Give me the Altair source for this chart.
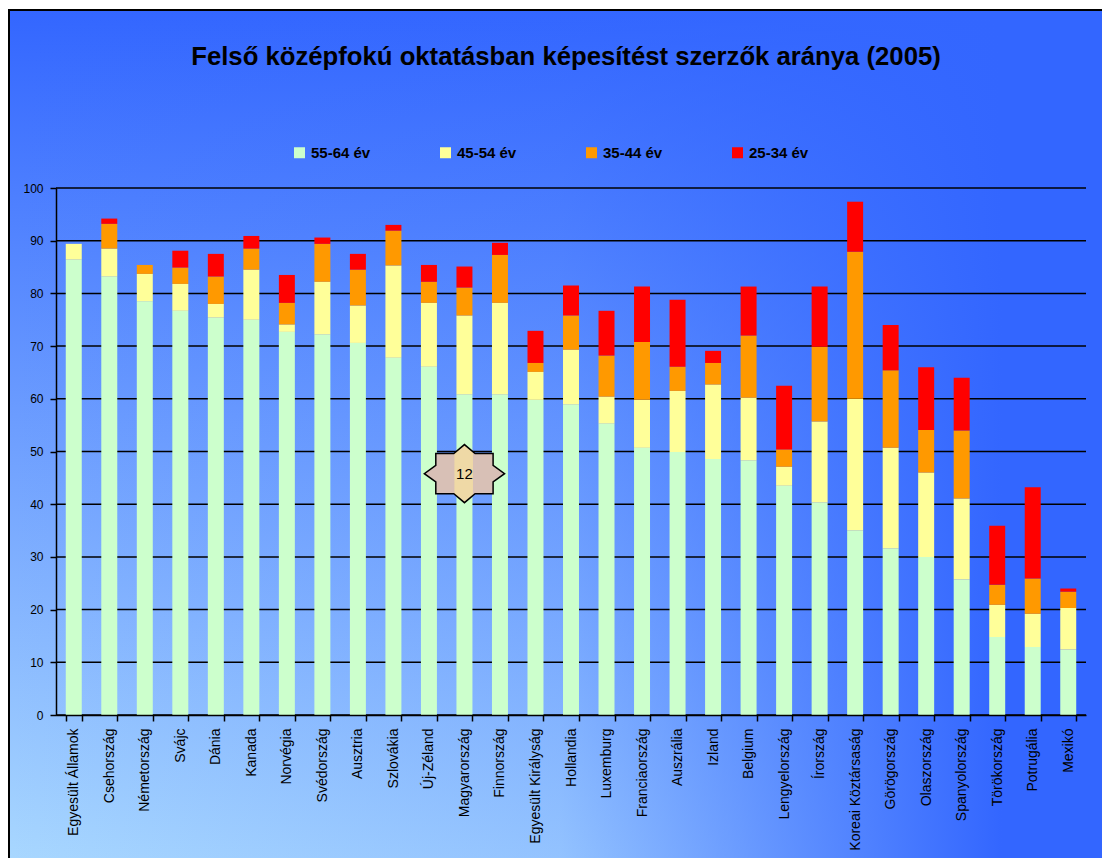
import altair as alt
import pandas as pd

# ---------------- data ----------------
countries = ["Egyesült Államok", "Csehország", "Németország", "Svájc", "Dánia", "Kanada",
             "Norvégia", "Svédország", "Ausztria", "Szlovákia", "Új-Zéland", "Magyarország",
             "Finnország", "Egyesült Királyság", "Hollandia", "Luxemburg", "Franciaország",
             "Auszrália", "Izland", "Belgium", "Lengyelország", "Írország", "Koreai Köztársaság",
             "Görögország", "Olaszország", "Spanyolország", "Törökország", "Potrugália", "Mexikó"]

age_groups = ["55-64 év", "45-54 év", "35-44 év", "25-34 év"]
age_colors = ["#ccffcc", "#ffff99", "#ff9900", "#ff0000"]

v55_64 = [86.4, 83.2, 78.5, 76.7, 75.4, 75.0, 72.7, 72.2, 70.6, 67.8, 66.1, 60.8, 60.8, 59.8, 58.9,
          55.3, 50.7, 49.9, 48.6, 48.3, 43.5, 40.3, 35.0, 31.6, 30.0, 25.7, 14.8, 12.9, 12.4]
v45_54 = [89.4, 88.5, 83.7, 81.8, 78.0, 84.5, 74.1, 82.2, 77.7, 85.3, 78.2, 75.8, 78.2, 65.1, 69.3,
          60.4, 59.8, 61.5, 62.7, 60.2, 47.1, 55.7, 60.0, 50.7, 46.0, 41.1, 20.9, 19.2, 20.3]
v35_44 = [88.0, 93.2, 85.4, 84.9, 83.2, 88.5, 78.2, 89.4, 84.5, 91.9, 82.2, 81.1, 87.3, 66.8, 75.8,
          68.2, 70.8, 66.1, 66.8, 72.0, 50.4, 69.9, 87.9, 65.4, 54.1, 54.0, 24.7, 25.9, 23.4]
v25_34 = [87.0, 94.2, 84.0, 88.1, 87.5, 90.9, 83.5, 90.6, 87.5, 93.0, 85.4, 85.1, 89.6, 72.9, 81.5,
          76.7, 81.3, 78.8, 69.1, 81.3, 62.5, 81.3, 97.4, 74.0, 66.0, 64.0, 35.9, 43.2, 24.0]

y_ticks = [0, 10, 20, 30, 40, 50, 60, 70, 80, 90, 100]

title_text = "Felső középfokú oktatásban képesítést szerzők aránya (2005)"

# annotation badge ("12")
badge_country = ["Magyarország"]
badge_value = [45.8]
badge_label = ["12"]

# ---------------- tables ----------------
# Bars overlap (100 % overlap, younger group behind): keep only the visible part of each.
series_front_to_back = [("55-64 év", v55_64), ("45-54 év", v45_54),
                        ("35-44 év", v35_44), ("25-34 év", v25_34)]
rows = []
for i, c in enumerate(countries):
    covered = 0.0
    for name, vals in series_front_to_back:
        v = vals[i]
        if v > covered:
            rows.append({"orszag": c, "korcsoport": name, "also": covered, "ertek": v})
            covered = v
df = pd.DataFrame(rows)
grid_df = pd.DataFrame({"ertek": y_ticks})
badge_df = pd.DataFrame({"orszag": badge_country, "ertek": badge_value, "label": badge_label})
one = pd.DataFrame({"k": [0]})

# ---------------- layout ----------------
W, H = 1030, 527
PAD_L, PAD_T = 48, 180
CANVAS_W, CANVAS_H = 1094, 850

FONT = "Liberation Sans, Arial, sans-serif"

y_scale = alt.Scale(domain=[0, 100], nice=False, zero=True)
x_scale = alt.Scale(paddingInner=0.55, paddingOuter=0.275)

x_axis = alt.Axis(title=None, labelAngle=-90, tickBand="extent", domainColor="black",
                  domainWidth=1.5, tickColor="black", tickSize=6, tickWidth=1.5,
                  labelFont=FONT, labelFontSize=14, labelColor="black", labelPadding=7,
                  grid=False, zindex=1)
y_axis = alt.Axis(title=None, values=y_ticks, grid=False, domainColor="black", domainWidth=1.5,
                  tickColor="black", tickSize=6, tickWidth=1.5, labelFont=FONT,
                  labelFontSize=12, labelColor="black", labelPadding=7, zindex=1)

x_enc = alt.X("orszag:N", sort=countries, scale=x_scale, axis=x_axis)
y_enc = alt.Y("ertek:Q", scale=y_scale, axis=y_axis)

# background: vertical gradient + horizontal darkening overlay
bg = alt.Chart(one).mark_rect(
    fill=alt.LinearGradient(gradient="linear", x1=0, y1=1, x2=0, y2=0,
                            stops=[alt.GradientStop(offset=0, color="#a8d7ff"),
                                   alt.GradientStop(offset=1, color="#3366ff")]),
    strokeWidth=0,
).encode(x=alt.value(-47), x2=alt.value(CANVAS_W - PAD_L + 10),
         y=alt.value(-178), y2=alt.value(CANVAS_H - PAD_T))

overlay = alt.Chart(one).mark_rect(
    fill=alt.LinearGradient(gradient="linear", x1=0, y1=0, x2=1, y2=0,
                            stops=[alt.GradientStop(offset=0, color="rgba(51,102,255,0)"),
                                   alt.GradientStop(offset=0.5, color="rgba(51,102,255,0.18)"),
                                   alt.GradientStop(offset=0.7, color="rgba(51,102,255,0.6)"),
                                   alt.GradientStop(offset=0.9, color="rgba(51,102,255,1)"),
                                   alt.GradientStop(offset=1, color="rgba(51,102,255,1)")]),
    stroke="black", strokeWidth=2,
).encode(x=alt.value(-47), x2=alt.value(CANVAS_W - PAD_L + 10),
         y=alt.value(-178), y2=alt.value(CANVAS_H - PAD_T + 10))

title = alt.Chart(one).mark_text(
    text=title_text, font=FONT, fontSize=25.7, fontWeight="bold", color="black",
    align="center", baseline="alphabetic",
).encode(x=alt.value(510), y=alt.value(-123))

grid = alt.Chart(grid_df).mark_rule(color="black", strokeWidth=1.5).encode(
    y=y_enc, x=alt.value(0), x2=alt.value(W))

bars = alt.Chart(df).mark_bar(opacity=1).encode(
    x=x_enc,
    y=y_enc,
    y2="also:Q",
    color=alt.Color("korcsoport:N",
                    scale=alt.Scale(domain=age_groups, range=age_colors),
                    legend=alt.Legend(orient="none", legendX=236, legendY=-43,
                                      direction="horizontal", columns=4, title=None,
                                      symbolType="square", symbolSize=121,
                                      symbolStrokeWidth=0, symbolOpacity=1,
                                      labelFont=FONT, labelFontSize=15,
                                      labelFontWeight="bold", labelColor="black",
                                      labelOffset=4, columnPadding=67)),
)

star_path = ("M -0.7 -0.49 L -0.26 -0.49 L 0 -0.71 L 0.26 -0.49 L 0.7 -0.49 L 0.7 -0.2 "
             "L 0.98 0 L 0.7 0.2 L 0.7 0.49 L 0.26 0.49 L 0 0.71 L -0.26 0.49 L -0.7 0.49 "
             "L -0.7 0.2 L -0.98 0 L -0.7 -0.2 Z")
star = alt.Chart(badge_df).mark_point(
    shape=star_path, size=6700, filled=True, opacity=1,
    fill=alt.LinearGradient(gradient="linear", x1=0, y1=0, x2=1, y2=0,
                            stops=[alt.GradientStop(offset=0, color="#d8c0b6"),
                                   alt.GradientStop(offset=0.37, color="#d8c0b6"),
                                   alt.GradientStop(offset=0.38, color="#efd9a6"),
                                   alt.GradientStop(offset=0.6, color="#efd9a6"),
                                   alt.GradientStop(offset=0.61, color="#d8c0b6"),
                                   alt.GradientStop(offset=1, color="#d8c0b6")]),
    stroke="black", strokeWidth=1.5,
).encode(x=x_enc, y=y_enc)

star_text = alt.Chart(badge_df).mark_text(
    font=FONT, fontSize=15, color="black", align="center", baseline="middle",
).encode(x=x_enc, y=y_enc, text="label:N")

chart = alt.layer(bg, overlay, title, grid, bars, star, star_text).properties(
    width=W, height=H,
    padding={"left": PAD_L, "top": PAD_T, "right": CANVAS_W - PAD_L - W,
             "bottom": CANVAS_H - PAD_T - H},
    autosize=alt.AutoSizeParams(type="none"),
).configure_view(stroke=None).configure(background="white")

chart.save("out.html", embed_options={"renderer": "svg", "actions": False})
